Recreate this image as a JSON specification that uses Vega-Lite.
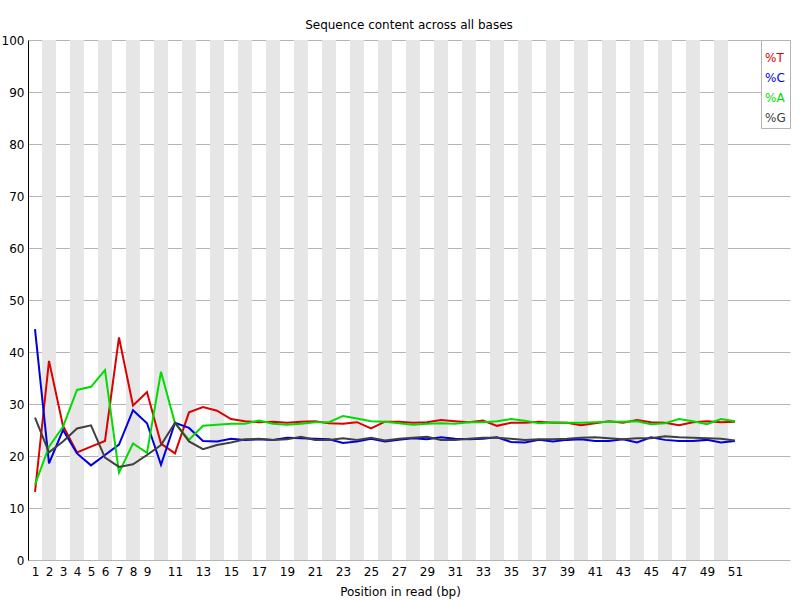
{
  "$schema": "https://vega.github.io/schema/vega-lite/v6.json",
  "width": 762,
  "height": 520,
  "autosize": {"type": "none"},
  "padding": {"left": 28, "top": 40, "right": 10, "bottom": 40},
  "background": "white",
  "title": {
    "text": "Sequence content across all bases",
    "font": "DejaVu Sans",
    "fontSize": 12,
    "fontWeight": "normal",
    "color": "black",
    "anchor": "middle",
    "offset": 2
  },
  "datasets": {
    "bands": [
      {"pos": 2}, {"pos": 4}, {"pos": 6}, {"pos": 8}, {"pos": 10},
      {"pos": 12}, {"pos": 14}, {"pos": 16}, {"pos": 18}, {"pos": 20},
      {"pos": 22}, {"pos": 24}, {"pos": 26}, {"pos": 28}, {"pos": 30},
      {"pos": 32}, {"pos": 34}, {"pos": 36}, {"pos": 38}, {"pos": 40},
      {"pos": 42}, {"pos": 44}, {"pos": 46}, {"pos": 48}, {"pos": 50}
    ],
    "content": [
      {"pos": 1, "T": 13.1, "C": 44.4, "A": 14.5, "G": 27.4},
      {"pos": 2, "T": 38.3, "C": 18.6, "A": 21.8, "G": 20.7},
      {"pos": 3, "T": 25.8, "C": 25.0, "A": 25.6, "G": 22.8},
      {"pos": 4, "T": 20.7, "C": 20.5, "A": 32.7, "G": 25.3},
      {"pos": 5, "T": 21.8, "C": 18.2, "A": 33.3, "G": 25.9},
      {"pos": 6, "T": 22.9, "C": 20.2, "A": 36.5, "G": 19.7},
      {"pos": 7, "T": 42.8, "C": 22.2, "A": 16.8, "G": 17.9},
      {"pos": 8, "T": 29.7, "C": 28.8, "A": 22.4, "G": 18.4},
      {"pos": 9, "T": 32.3, "C": 26.3, "A": 20.6, "G": 20.2},
      {"pos": 10, "T": 22.4, "C": 18.3, "A": 36.2, "G": 22.1},
      {"pos": 11, "T": 20.5, "C": 26.4, "A": 26.3, "G": 26.4},
      {"pos": 12, "T": 28.4, "C": 25.4, "A": 23.1, "G": 22.8},
      {"pos": 13, "T": 29.4, "C": 22.9, "A": 25.8, "G": 21.3},
      {"pos": 14, "T": 28.7, "C": 22.8, "A": 26.0, "G": 22.1},
      {"pos": 15, "T": 27.1, "C": 23.3, "A": 26.2, "G": 22.6},
      {"pos": 16, "T": 26.7, "C": 23.1, "A": 26.2, "G": 23.2},
      {"pos": 17, "T": 26.5, "C": 23.2, "A": 26.8, "G": 23.3},
      {"pos": 18, "T": 26.6, "C": 23.1, "A": 26.2, "G": 23.1},
      {"pos": 19, "T": 26.4, "C": 23.5, "A": 26.0, "G": 23.2},
      {"pos": 20, "T": 26.6, "C": 23.4, "A": 26.2, "G": 23.7},
      {"pos": 21, "T": 26.7, "C": 23.3, "A": 26.5, "G": 23.1},
      {"pos": 22, "T": 26.3, "C": 23.2, "A": 26.5, "G": 23.1},
      {"pos": 23, "T": 26.2, "C": 22.5, "A": 27.7, "G": 23.4},
      {"pos": 24, "T": 26.5, "C": 22.8, "A": 27.2, "G": 23.1},
      {"pos": 25, "T": 25.3, "C": 23.3, "A": 26.7, "G": 23.5},
      {"pos": 26, "T": 26.6, "C": 22.8, "A": 26.6, "G": 23.0},
      {"pos": 27, "T": 26.6, "C": 23.1, "A": 26.3, "G": 23.3},
      {"pos": 28, "T": 26.4, "C": 23.4, "A": 26.0, "G": 23.5},
      {"pos": 29, "T": 26.5, "C": 23.2, "A": 26.2, "G": 23.7},
      {"pos": 30, "T": 26.9, "C": 23.6, "A": 26.3, "G": 23.1},
      {"pos": 31, "T": 26.7, "C": 23.3, "A": 26.2, "G": 23.1},
      {"pos": 32, "T": 26.5, "C": 23.2, "A": 26.5, "G": 23.3},
      {"pos": 33, "T": 26.8, "C": 23.3, "A": 26.5, "G": 23.5},
      {"pos": 34, "T": 25.8, "C": 23.6, "A": 26.7, "G": 23.5},
      {"pos": 35, "T": 26.4, "C": 22.7, "A": 27.1, "G": 23.3},
      {"pos": 36, "T": 26.4, "C": 22.6, "A": 26.8, "G": 23.1},
      {"pos": 37, "T": 26.6, "C": 23.1, "A": 26.3, "G": 23.2},
      {"pos": 38, "T": 26.4, "C": 22.8, "A": 26.5, "G": 23.2},
      {"pos": 39, "T": 26.4, "C": 23.1, "A": 26.4, "G": 23.3},
      {"pos": 40, "T": 25.9, "C": 23.2, "A": 26.4, "G": 23.5},
      {"pos": 41, "T": 26.3, "C": 22.9, "A": 26.5, "G": 23.6},
      {"pos": 42, "T": 26.7, "C": 22.9, "A": 26.6, "G": 23.4},
      {"pos": 43, "T": 26.4, "C": 23.2, "A": 26.6, "G": 23.2},
      {"pos": 44, "T": 26.9, "C": 22.6, "A": 26.7, "G": 23.4},
      {"pos": 45, "T": 26.5, "C": 23.6, "A": 26.1, "G": 23.4},
      {"pos": 46, "T": 26.4, "C": 23.1, "A": 26.3, "G": 23.8},
      {"pos": 47, "T": 25.9, "C": 22.9, "A": 27.1, "G": 23.6},
      {"pos": 48, "T": 26.5, "C": 22.9, "A": 26.7, "G": 23.5},
      {"pos": 49, "T": 26.7, "C": 23.1, "A": 26.1, "G": 23.4},
      {"pos": 50, "T": 26.5, "C": 22.6, "A": 27.1, "G": 23.3},
      {"pos": 51, "T": 26.6, "C": 22.9, "A": 26.7, "G": 23.0}
    ]
  },
  "encoding": {
    "x": {
      "field": "pos",
      "type": "quantitative",
      "scale": {"domain": [0.5, 54.93], "nice": false, "zero": false, "padding": 0},
      "axis": {
        "title": "Position in read (bp)",
        "values": [1, 2, 3, 4, 5, 6, 7, 8, 9, 11, 13, 15, 17, 19, 21, 23, 25, 27, 29, 31, 33, 35, 37, 39, 41, 43, 45, 47, 49, 51],
        "labelOverlap": false,
        "grid": false,
        "domain": false,
        "ticks": false,
        "labelPadding": 6,
        "titleX": 372,
        "titleY": 35,
        "titleBaseline": "alphabetic"
      }
    }
  },
  "layer": [
    {
      "data": {"name": "bands"},
      "mark": {"type": "bar", "width": 14, "color": "#e6e6e6"},
      "encoding": {
        "y": {"datum": 100, "type": "quantitative"},
        "y2": {"datum": 0}
      }
    },
    {
      "data": {"name": "content"},
      "transform": [
        {"fold": ["T", "C", "A", "G"], "as": ["base", "pct"]},
        {"calculate": "'%' + datum.base", "as": "series"}
      ],
      "mark": {"type": "line", "strokeWidth": 2},
      "encoding": {
        "y": {
          "field": "pct",
          "type": "quantitative",
          "scale": {"domain": [0, 100], "nice": false},
          "axis": {
            "title": null,
            "values": [0, 10, 20, 30, 40, 50, 60, 70, 80, 90, 100],
            "grid": true,
            "gridColor": "#b4b4b4",
            "gridOpacity": 1,
            "domainColor": "black",
            "ticks": false,
            "labelPadding": 4
          }
        },
        "color": {
          "field": "series",
          "type": "nominal",
          "sort": ["%T", "%C", "%A", "%G"],
          "scale": {
            "domain": ["%T", "%C", "%A", "%G"],
            "range": ["#dc0000", "#0000dc", "#00dc00", "#404040"]
          },
          "legend": {
            "title": " ",
            "titleFontSize": 6,
            "titlePadding": 2,
            "orient": "top-right",
            "offset": 0,
            "padding": 4,
            "rowPadding": 8,
            "symbolType": "circle",
            "symbolSize": 0,
            "symbolStrokeWidth": 0,
            "labelOffset": 0,
            "labelFontSize": 12,
            "strokeColor": "#b4b4b4",
            "fillColor": "white",
            "encode": {
              "labels": {"update": {"fill": {"scale": "color", "field": "value"}, "dx": {"value": -12}}}
            }
          }
        }
      }
    }
  ],
  "config": {
    "font": "DejaVu Sans",
    "view": {"stroke": null},
    "axis": {
      "labelFont": "DejaVu Sans",
      "labelFontSize": 12,
      "labelColor": "black",
      "titleFont": "DejaVu Sans",
      "titleFontSize": 12,
      "titleFontWeight": "normal",
      "titleColor": "black"
    },
    "axisX": {"labelOverlap": false},
    "legend": {"labelFont": "DejaVu Sans"}
  }
}
